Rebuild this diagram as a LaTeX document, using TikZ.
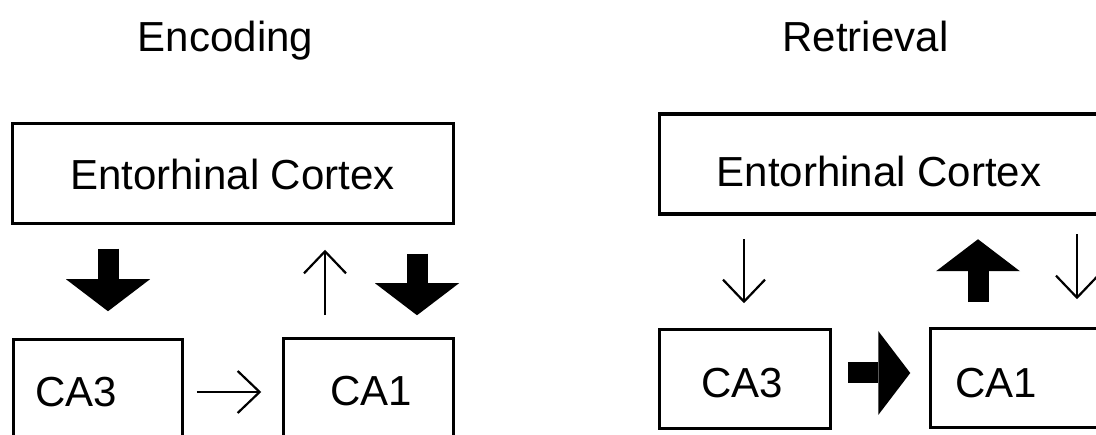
\documentclass[tikz,border=0pt]{standalone}
\usepackage{fontspec}
\setmainfont{Liberation Sans}
\usetikzlibrary{arrows.meta}
\begin{document}
\begin{tikzpicture}[x=1pt,y=-1pt,
  area/.style={draw,line width=3.5pt,minimum height=100pt,inner sep=0pt},
  lbl/.style={anchor=base,font=\fontsize{42}{50}\selectfont},
  slim/.style={line width=2.2pt,-{Straight Barb[length=22pt,width=42pt]}},
  fat/.style={line width=21pt,-{Triangle[length=32pt,width=84pt,line width=0pt]}}]
\useasboundingbox (0,0) rectangle (1096,435);
% encoding
\node[lbl] (enc) at (225.5,52) {Encoding};
\node[area,minimum width=441pt] (ecA) at (233,173.5) {};
\node[area,minimum width=169pt] (ca3A) at (98,389.5) {};
\node[area,minimum width=170pt] (ca1A) at (368.5,388.5) {};
\node[lbl] (ecAtxt) at (232.5,190) {Entorhinal Cortex};
\node[lbl] (ca3Atxt) at (76.5,407) {CA3};
\node[lbl] (ca1Atxt) at (371.5,406) {CA1};
\draw[fat,shorten <=23.5pt,shorten >=26.5pt] ([xshift=10pt]ca3A.north |- ecA.south) -- ([xshift=10pt]ca3A.north);
\draw[slim,shorten <=21.5pt,shorten >=24.5pt] ([xshift=-43.5pt]ca1A.north) -- ([xshift=-43.5pt]ca1A.north |- ecA.south);
\draw[fat,shorten <=28.5pt,shorten >=21.5pt] ([xshift=48.5pt]ca1A.north |- ecA.south) -- ([xshift=48.5pt]ca1A.north);
\draw[slim,shorten <=12.5pt,shorten >=20.5pt] ([yshift=-2.5pt]ca3A.east) -- ([yshift=-2.5pt]ca3A.east -| ca1A.west);
% retrieval
\node[lbl] (ret) at (865.5,52) {Retrieval};
\node[area,minimum width=441pt] (ecB) at (880,164) {};
\node[area,minimum width=171pt,minimum height=99pt] (ca3B) at (745,379) {};
\node[area,minimum width=171pt,minimum height=99pt] (ca1B) at (1016,378) {};
\node[lbl] (ecBtxt) at (879,187) {Entorhinal Cortex};
\node[lbl] (ca3Btxt) at (742.5,398) {CA3};
\node[lbl] (ca1Btxt) at (996.5,398) {CA1};
\draw[slim,shorten <=23.5pt,shorten >=24.5pt] ([xshift=-1pt]ca3B.north |- ecB.south) -- ([xshift=-1pt]ca3B.north);
\draw[fat,shorten <=24.5pt,shorten >=23.5pt] ([xshift=-38pt]ca1B.north) -- ([xshift=-38pt]ca1B.north |- ecB.south);
\draw[slim,shorten <=18.5pt,shorten >=27.5pt] ([xshift=61pt]ca1B.north |- ecB.south) -- ([xshift=61pt]ca1B.north);
\draw[fat,shorten <=15.5pt,shorten >=18.5pt] ([yshift=6pt]ca3B.east) -- ([yshift=6pt]ca3B.east -| ca1B.west);
\end{tikzpicture}
\end{document}
